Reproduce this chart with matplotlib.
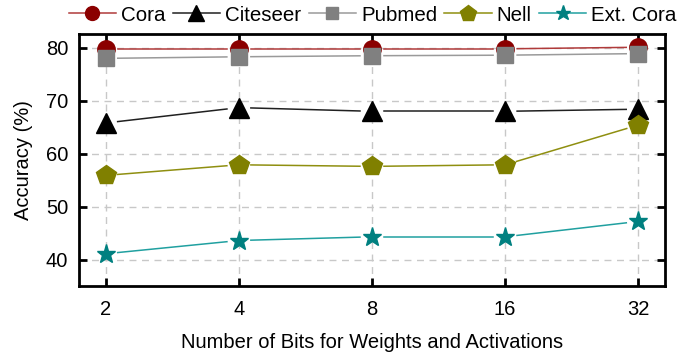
import numpy as np
import matplotlib.pyplot as plt
from matplotlib.lines import Line2D

plt.rcParams['font.family'] = ['Liberation Sans', 'DejaVu Sans']

bits = ['2', '4', '8', '16', '32']
cora = [79.8, 79.8, 79.8, 79.8, 80.1]
citeseer = [65.8, 68.7, 68.0, 68.0, 68.4]
pubmed = [78.0, 78.3, 78.5, 78.6, 78.9]
nell = [55.9, 57.9, 57.6, 57.9, 65.4]
ext_cora = [41.1, 43.6, 44.3, 44.3, 47.2]

series = [
    ('Cora', cora, '#8b0000', '#b03a3a', 'o', 12.5),
    ('Citeseer', citeseer, '#000000', '#202020', '^', 14.5),
    ('Pubmed', pubmed, '#808080', '#9a9a9a', 's', 11.5),
    ('Nell', nell, '#808000', '#8f8f10', 'p', 14.5),
    ('Ext. Cora', ext_cora, '#008080', '#20a0a0', '*', 14),
]


def gapped_line(ax, x, y, color, gap=12):
    # connect neighbouring points, leaving a gap around each marker
    pts = ax.transData.transform(np.column_stack([x, y]))
    inv = ax.transData.inverted()
    for p, q in zip(pts[:-1], pts[1:]):
        d = q - p
        n = np.hypot(*d)
        a = p + d / n * gap
        b = q - d / n * gap
        seg = inv.transform(np.array([a, b]))
        ax.plot(seg[:, 0], seg[:, 1], color=color, lw=1.1, zorder=2)


fig = plt.figure(figsize=(6.94, 3.58), dpi=100)
ax = fig.add_axes([0.114, 0.201, 0.844, 0.704])
x = np.arange(len(bits))
ax.set_xlim(-0.2, 4.2)
ax.set_ylim(35, 82.6)

ax.grid(True, color='#c8c8c8', ls=(0, (5, 4)), lw=1.0, zorder=0)
ax.set_axisbelow(True)

handles = []
for name, vals, mc, lc, mk, ms in series:
    gapped_line(ax, x, vals, lc)
    ax.plot(x, vals, ls='none', marker=mk, ms=ms, color=mc, mec=mc, zorder=3)
    handles.append(Line2D([], [], color=lc, lw=1.1, marker=mk, ms=ms * 0.8,
                          mfc=mc, mec=mc, label=name))

ax.set_xticks(x)
ax.set_xticklabels(bits)
ax.set_yticks([40, 50, 60, 70, 80])
ax.tick_params(direction='in', length=6, width=2, labelsize=14.5,
               top=True, right=True, pad=8)
ax.tick_params(axis='x', pad=10)
for s in ax.spines.values():
    s.set_linewidth(2)

ax.set_xlabel('Number of Bits for Weights and Activations', fontsize=14.5, labelpad=10)
ax.set_ylabel('Accuracy (%)', fontsize=14.5, labelpad=9)

fig.legend(handles=handles, loc='center', bbox_to_anchor=(0.537, 0.958), ncol=5,
           frameon=False, fontsize=14.8, handlelength=2.3, handletextpad=0.25,
           columnspacing=0.35, borderpad=0)

fig.savefig('out.png', dpi=100)
